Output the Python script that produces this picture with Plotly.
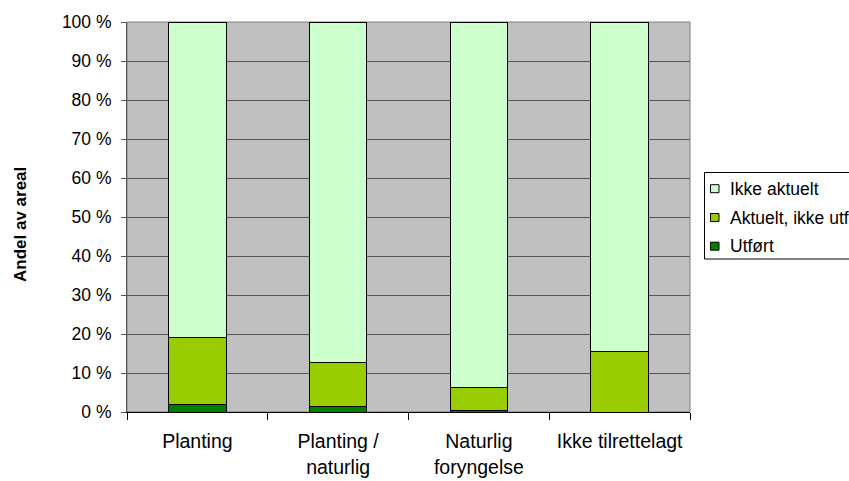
import plotly.graph_objects as go

# Share of area (%) per regeneration method
categories = ["Planting", "Planting /<br>naturlig", "Naturlig<br>foryngelse", "Ikke tilrettelagt"]
utfort = [2.0, 1.5, 0.4, 0.0]
aktuelt_ikke_utfort = [17.2, 11.1, 5.8, 15.4]
ikke_aktuelt = [80.8, 87.4, 93.8, 84.6]

y_tickvals = [0, 10, 20, 30, 40, 50, 60, 70, 80, 90, 100]
y_ticktext = [f"{v} %" for v in y_tickvals]

# legend entries, top to bottom
legend_labels = ["Ikke aktuelt", "Aktuelt, ikke utf", "Utført"]

FONT = "Liberation Sans, Arial, sans-serif"
COLORS = {"Utført": "#008000", "Aktuelt": "#99CC00", "Ikke aktuelt": "#CCFFCC"}

# plot area in pixels (used to place the hand-made legend in paper units)
W, H = 849, 481
L, R, T, B = 127, 159, 22, 69
PW, PH = W - L - R, H - T - B


def px(x):
    return (x - L) / PW


def py(y):
    return (H - B - y) / PH


fig = go.Figure()
series = [
    ("Utført", utfort, COLORS["Utført"]),
    ("Aktuelt", aktuelt_ikke_utfort, COLORS["Aktuelt"]),
    ("Ikke aktuelt", ikke_aktuelt, COLORS["Ikke aktuelt"]),
]
for name, vals, color in series:
    fig.add_trace(go.Bar(
        x=categories, y=vals, name=name,
        marker=dict(color=color, line=dict(color="#000000", width=1)),
    ))

shapes = [dict(
    type="rect", xref="paper", yref="paper", x0=0, x1=1, y0=0, y1=1,
    line=dict(color="#808080", width=1), layer="below",
)]
annotations = []

# legend frame (runs past the right edge of the canvas)
shapes.append(dict(
    type="rect", xref="paper", yref="paper",
    x0=px(704.5), x1=px(870), y0=py(259), y1=py(172.5),
    line=dict(color="#000000", width=1), fillcolor="#FFFFFF", layer="above",
))
legend_colors = [COLORS["Ikke aktuelt"], COLORS["Aktuelt"], COLORS["Utført"]]
row_y = [188.7, 217.5, 246.2]
for label, color, yc in zip(legend_labels, legend_colors, row_y):
    shapes.append(dict(
        type="rect", xref="paper", yref="paper",
        x0=px(710.5), x1=px(719), y0=py(yc + 4), y1=py(yc - 4),
        line=dict(color="#000000", width=1), fillcolor=color, layer="above",
    ))
    annotations.append(dict(
        xref="paper", yref="paper", x=px(727.5), y=py(yc),
        xanchor="left", yanchor="middle", showarrow=False,
        text=label, font=dict(family=FONT, size=17.5, color="#000000"),
    ))

# y-axis title
annotations.append(dict(
    xref="paper", yref="paper", x=px(21), y=py(225),
    xanchor="center", yanchor="middle", showarrow=False, textangle=-90,
    text="<b>Andel av areal</b>", font=dict(family=FONT, size=17, color="#000000"),
))

fig.update_layout(
    width=W, height=H,
    margin=dict(l=L, r=R, t=T, b=B, autoexpand=False),
    barmode="stack", bargap=0.59,
    paper_bgcolor="#FFFFFF", plot_bgcolor="#C0C0C0",
    font=dict(family=FONT, size=17.5, color="#000000"),
    showlegend=False,
    xaxis=dict(
        showgrid=False, showline=True, linecolor="#000000", linewidth=1,
        ticks="outside", tickson="boundaries", ticklen=7, tickcolor="#000000",
        tickangle=0, ticklabelstandoff=12,
        tickfont=dict(family=FONT, size=19.5),
        fixedrange=True,
    ),
    yaxis=dict(
        range=[0, 100], tickvals=y_tickvals, ticktext=y_ticktext,
        showgrid=True, gridcolor="#555555", gridwidth=1,
        showline=True, linecolor="#555555", linewidth=1,
        ticks="outside", ticklen=5, tickcolor="#555555",
        ticklabelstandoff=6,
        tickfont=dict(family=FONT, size=17.5),
        zeroline=False, fixedrange=True,
    ),
    shapes=shapes,
    annotations=annotations,
)

fig.write_html("out.html", config={"displayModeBar": False})
